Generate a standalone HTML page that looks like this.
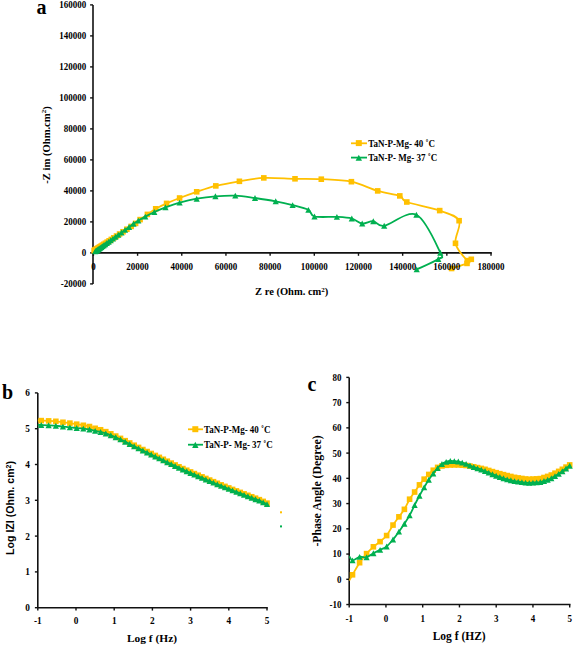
<!DOCTYPE html>
<html><head><meta charset="utf-8"><title>EIS plots</title>
<style>
html,body{margin:0;padding:0;background:#fff;}
body{width:575px;height:647px;overflow:hidden;}
svg{display:block;}
text{fill:#000;}
</style></head>
<body>
<svg width="575" height="647" viewBox="0 0 575 647">
<rect width="575" height="647" fill="#fff"/>
<line x1="93.0" y1="4.900000000000006" x2="93.0" y2="283.9" stroke="#111" stroke-width="1.6"/>
<line x1="93.0" y1="252.9" x2="491.82" y2="252.9" stroke="#111" stroke-width="1.6"/>
<line x1="90.1" y1="283.90" x2="93.0" y2="283.90" stroke="#111" stroke-width="1.4"/>
<text transform="translate(86.20,287.30) scale(1,1.1)" style="font-family:'Liberation Serif',serif;font-weight:bold;font-size:9px" text-anchor="end" >-20000</text>
<line x1="90.1" y1="252.90" x2="93.0" y2="252.90" stroke="#111" stroke-width="1.4"/>
<text transform="translate(86.20,256.30) scale(1,1.1)" style="font-family:'Liberation Serif',serif;font-weight:bold;font-size:9px" text-anchor="end" >0</text>
<line x1="90.1" y1="221.90" x2="93.0" y2="221.90" stroke="#111" stroke-width="1.4"/>
<text transform="translate(86.20,225.30) scale(1,1.1)" style="font-family:'Liberation Serif',serif;font-weight:bold;font-size:9px" text-anchor="end" >20000</text>
<line x1="90.1" y1="190.90" x2="93.0" y2="190.90" stroke="#111" stroke-width="1.4"/>
<text transform="translate(86.20,194.30) scale(1,1.1)" style="font-family:'Liberation Serif',serif;font-weight:bold;font-size:9px" text-anchor="end" >40000</text>
<line x1="90.1" y1="159.90" x2="93.0" y2="159.90" stroke="#111" stroke-width="1.4"/>
<text transform="translate(86.20,163.30) scale(1,1.1)" style="font-family:'Liberation Serif',serif;font-weight:bold;font-size:9px" text-anchor="end" >60000</text>
<line x1="90.1" y1="128.90" x2="93.0" y2="128.90" stroke="#111" stroke-width="1.4"/>
<text transform="translate(86.20,132.30) scale(1,1.1)" style="font-family:'Liberation Serif',serif;font-weight:bold;font-size:9px" text-anchor="end" >80000</text>
<line x1="90.1" y1="97.90" x2="93.0" y2="97.90" stroke="#111" stroke-width="1.4"/>
<text transform="translate(86.20,101.30) scale(1,1.1)" style="font-family:'Liberation Serif',serif;font-weight:bold;font-size:9px" text-anchor="end" >100000</text>
<line x1="90.1" y1="66.90" x2="93.0" y2="66.90" stroke="#111" stroke-width="1.4"/>
<text transform="translate(86.20,70.30) scale(1,1.1)" style="font-family:'Liberation Serif',serif;font-weight:bold;font-size:9px" text-anchor="end" >120000</text>
<line x1="90.1" y1="35.90" x2="93.0" y2="35.90" stroke="#111" stroke-width="1.4"/>
<text transform="translate(86.20,39.30) scale(1,1.1)" style="font-family:'Liberation Serif',serif;font-weight:bold;font-size:9px" text-anchor="end" >140000</text>
<line x1="90.1" y1="4.90" x2="93.0" y2="4.90" stroke="#111" stroke-width="1.4"/>
<text transform="translate(86.20,8.30) scale(1,1.1)" style="font-family:'Liberation Serif',serif;font-weight:bold;font-size:9px" text-anchor="end" >160000</text>
<line x1="93.40" y1="252.9" x2="93.40" y2="255.8" stroke="#111" stroke-width="1.4"/>
<line x1="137.58" y1="252.9" x2="137.58" y2="255.8" stroke="#111" stroke-width="1.4"/>
<line x1="181.76" y1="252.9" x2="181.76" y2="255.8" stroke="#111" stroke-width="1.4"/>
<line x1="225.94" y1="252.9" x2="225.94" y2="255.8" stroke="#111" stroke-width="1.4"/>
<line x1="270.12" y1="252.9" x2="270.12" y2="255.8" stroke="#111" stroke-width="1.4"/>
<line x1="314.30" y1="252.9" x2="314.30" y2="255.8" stroke="#111" stroke-width="1.4"/>
<line x1="358.48" y1="252.9" x2="358.48" y2="255.8" stroke="#111" stroke-width="1.4"/>
<line x1="402.66" y1="252.9" x2="402.66" y2="255.8" stroke="#111" stroke-width="1.4"/>
<line x1="446.84" y1="252.9" x2="446.84" y2="255.8" stroke="#111" stroke-width="1.4"/>
<line x1="491.02" y1="252.9" x2="491.02" y2="255.8" stroke="#111" stroke-width="1.4"/>
<path d="M94.20,250.60 C94.27,250.56 94.46,250.43 94.60,250.34 C94.74,250.25 94.89,250.15 95.05,250.05 C95.21,249.94 95.37,249.83 95.55,249.72 C95.73,249.60 95.91,249.48 96.11,249.35 C96.31,249.22 96.52,249.08 96.74,248.94 C96.96,248.79 97.20,248.64 97.45,248.48 C97.70,248.31 97.96,248.14 98.24,247.96 C98.51,247.78 98.81,247.59 99.12,247.38 C99.43,247.18 99.76,246.96 100.11,246.73 C100.46,246.51 100.83,246.27 101.22,246.01 C101.61,245.75 102.02,245.48 102.46,245.20 C102.90,244.91 103.36,244.61 103.85,244.29 C104.34,243.96 104.86,243.63 105.41,243.27 C105.96,242.91 106.54,242.53 107.16,242.13 C107.77,241.72 108.42,241.30 109.11,240.85 C109.80,240.40 110.53,239.92 111.30,239.42 C112.07,238.91 112.89,238.38 113.75,237.81 C114.62,237.24 115.53,236.65 116.50,236.02 C117.47,235.38 118.49,234.71 119.58,234.00 C120.66,233.29 121.80,232.55 123.02,231.75 C124.24,230.95 125.52,230.12 126.88,229.23 C128.24,228.33 129.75,227.37 131.20,226.40 C132.65,225.43 134.12,224.53 135.60,223.40 C137.08,222.27 138.13,221.10 140.10,219.60 C142.07,218.10 144.80,216.20 147.40,214.40 C150.00,212.60 152.50,210.63 155.70,208.80 C158.90,206.97 162.62,205.20 166.60,203.40 C170.58,201.60 174.58,199.93 179.60,198.00 C184.62,196.07 190.67,193.82 196.70,191.80 C202.73,189.78 208.68,187.65 215.80,185.90 C222.92,184.15 231.40,182.63 239.40,181.30 C247.40,179.97 254.53,178.32 263.80,177.90 C273.07,177.48 285.42,178.58 295.00,178.80 C304.58,179.02 311.90,178.72 321.30,179.20 C330.70,179.68 342.00,179.75 351.40,181.70 C360.80,183.65 369.63,188.53 377.70,190.90 C385.77,193.27 394.95,194.05 399.80,195.90 C404.65,197.75 400.15,199.55 406.80,202.00 C413.45,204.45 430.98,207.48 439.70,210.60 C448.42,213.72 456.47,215.25 459.10,220.70 C461.73,226.15 454.12,236.65 455.50,243.30 C456.88,249.95 464.77,257.93 467.40,260.60 C470.03,263.27 471.37,258.83 471.30,259.30 C471.23,259.77 470.28,261.87 467.00,263.40 C463.72,264.93 454.17,267.65 451.60,268.50" fill="none" stroke="#FFC000" stroke-width="1.8"/>
<rect x="91.40" y="247.80" width="5.6" height="5.6" fill="#FFC000"/>
<rect x="91.80" y="247.54" width="5.6" height="5.6" fill="#FFC000"/>
<rect x="92.25" y="247.25" width="5.6" height="5.6" fill="#FFC000"/>
<rect x="92.75" y="246.92" width="5.6" height="5.6" fill="#FFC000"/>
<rect x="93.31" y="246.55" width="5.6" height="5.6" fill="#FFC000"/>
<rect x="93.94" y="246.14" width="5.6" height="5.6" fill="#FFC000"/>
<rect x="94.65" y="245.68" width="5.6" height="5.6" fill="#FFC000"/>
<rect x="95.44" y="245.16" width="5.6" height="5.6" fill="#FFC000"/>
<rect x="96.32" y="244.58" width="5.6" height="5.6" fill="#FFC000"/>
<rect x="97.31" y="243.93" width="5.6" height="5.6" fill="#FFC000"/>
<rect x="98.42" y="243.21" width="5.6" height="5.6" fill="#FFC000"/>
<rect x="99.66" y="242.40" width="5.6" height="5.6" fill="#FFC000"/>
<rect x="101.05" y="241.49" width="5.6" height="5.6" fill="#FFC000"/>
<rect x="102.61" y="240.47" width="5.6" height="5.6" fill="#FFC000"/>
<rect x="104.36" y="239.33" width="5.6" height="5.6" fill="#FFC000"/>
<rect x="106.31" y="238.05" width="5.6" height="5.6" fill="#FFC000"/>
<rect x="108.50" y="236.62" width="5.6" height="5.6" fill="#FFC000"/>
<rect x="110.95" y="235.01" width="5.6" height="5.6" fill="#FFC000"/>
<rect x="113.70" y="233.22" width="5.6" height="5.6" fill="#FFC000"/>
<rect x="116.78" y="231.20" width="5.6" height="5.6" fill="#FFC000"/>
<rect x="120.22" y="228.95" width="5.6" height="5.6" fill="#FFC000"/>
<rect x="124.08" y="226.43" width="5.6" height="5.6" fill="#FFC000"/>
<rect x="128.40" y="223.60" width="5.6" height="5.6" fill="#FFC000"/>
<rect x="132.80" y="220.60" width="5.6" height="5.6" fill="#FFC000"/>
<rect x="137.30" y="216.80" width="5.6" height="5.6" fill="#FFC000"/>
<rect x="144.60" y="211.60" width="5.6" height="5.6" fill="#FFC000"/>
<rect x="152.90" y="206.00" width="5.6" height="5.6" fill="#FFC000"/>
<rect x="163.80" y="200.60" width="5.6" height="5.6" fill="#FFC000"/>
<rect x="176.80" y="195.20" width="5.6" height="5.6" fill="#FFC000"/>
<rect x="193.90" y="189.00" width="5.6" height="5.6" fill="#FFC000"/>
<rect x="213.00" y="183.10" width="5.6" height="5.6" fill="#FFC000"/>
<rect x="236.60" y="178.50" width="5.6" height="5.6" fill="#FFC000"/>
<rect x="261.00" y="175.10" width="5.6" height="5.6" fill="#FFC000"/>
<rect x="292.20" y="176.00" width="5.6" height="5.6" fill="#FFC000"/>
<rect x="318.50" y="176.40" width="5.6" height="5.6" fill="#FFC000"/>
<rect x="348.60" y="178.90" width="5.6" height="5.6" fill="#FFC000"/>
<rect x="374.90" y="188.10" width="5.6" height="5.6" fill="#FFC000"/>
<rect x="397.00" y="193.10" width="5.6" height="5.6" fill="#FFC000"/>
<rect x="404.00" y="199.20" width="5.6" height="5.6" fill="#FFC000"/>
<rect x="436.90" y="207.80" width="5.6" height="5.6" fill="#FFC000"/>
<rect x="456.30" y="217.90" width="5.6" height="5.6" fill="#FFC000"/>
<rect x="452.70" y="240.50" width="5.6" height="5.6" fill="#FFC000"/>
<rect x="464.60" y="257.80" width="5.6" height="5.6" fill="#FFC000"/>
<rect x="468.50" y="256.50" width="5.6" height="5.6" fill="#FFC000"/>
<rect x="464.20" y="260.60" width="5.6" height="5.6" fill="#FFC000"/>
<rect x="448.80" y="265.70" width="5.6" height="5.6" fill="#FFC000"/>
<path d="M95.20,251.40 C95.27,251.35 95.47,251.21 95.61,251.10 C95.76,251.00 95.91,250.89 96.08,250.77 C96.24,250.65 96.41,250.53 96.60,250.39 C96.78,250.26 96.97,250.12 97.18,249.97 C97.38,249.83 97.60,249.67 97.83,249.50 C98.06,249.34 98.30,249.16 98.56,248.98 C98.82,248.79 99.09,248.60 99.38,248.39 C99.67,248.18 99.97,247.96 100.29,247.73 C100.62,247.50 100.96,247.25 101.32,246.99 C101.68,246.73 102.06,246.46 102.47,246.16 C102.87,245.87 103.30,245.56 103.75,245.24 C104.21,244.91 104.68,244.57 105.19,244.20 C105.70,243.83 106.24,243.45 106.81,243.04 C107.38,242.63 107.97,242.20 108.61,241.74 C109.25,241.28 109.92,240.79 110.64,240.28 C111.35,239.76 112.10,239.22 112.90,238.64 C113.70,238.07 114.54,237.46 115.44,236.81 C116.34,236.17 117.28,235.49 118.28,234.77 C119.29,234.04 120.34,233.28 121.47,232.47 C122.59,231.66 123.77,230.81 125.03,229.90 C126.29,228.99 127.62,228.04 129.03,227.02 C130.44,226.01 131.95,224.87 133.50,223.80 C135.05,222.73 136.33,221.80 138.30,220.60 C140.27,219.40 142.63,218.03 145.30,216.60 C147.97,215.17 150.93,213.55 154.30,212.00 C157.67,210.45 161.28,208.87 165.50,207.30 C169.72,205.73 174.40,204.03 179.60,202.60 C184.80,201.17 190.73,199.75 196.70,198.70 C202.67,197.65 208.97,196.82 215.40,196.30 C221.83,195.78 228.70,195.32 235.30,195.60 C241.90,195.88 248.27,197.05 255.00,198.00 C261.73,198.95 269.43,200.12 275.70,201.30 C281.97,202.48 287.15,203.67 292.60,205.10 C298.05,206.53 304.75,208.00 308.40,209.90 C312.05,211.80 309.75,215.33 314.50,216.50 C319.25,217.67 330.68,216.57 336.90,216.90 C343.12,217.23 347.58,217.40 351.80,218.50 C356.02,219.60 358.62,223.05 362.20,223.50 C365.78,223.95 369.63,220.83 373.30,221.20 C376.97,221.57 377.02,226.77 384.20,225.70 C391.38,224.63 407.05,210.30 416.40,214.80 C425.75,219.30 436.65,245.33 440.30,252.70 C443.95,260.07 442.23,256.22 438.30,259.00 C434.37,261.78 420.30,267.67 416.70,269.40" fill="none" stroke="#00B050" stroke-width="1.8"/>
<path d="M95.20,248.46 L98.30,254.34 L92.10,254.34Z" fill="#00B050"/>
<path d="M95.61,248.16 L98.71,254.05 L92.51,254.05Z" fill="#00B050"/>
<path d="M96.08,247.82 L99.18,253.71 L92.98,253.71Z" fill="#00B050"/>
<path d="M96.60,247.45 L99.70,253.34 L93.50,253.34Z" fill="#00B050"/>
<path d="M97.18,247.03 L100.28,252.92 L94.08,252.92Z" fill="#00B050"/>
<path d="M97.83,246.56 L100.93,252.45 L94.73,252.45Z" fill="#00B050"/>
<path d="M98.56,246.03 L101.66,251.92 L95.46,251.92Z" fill="#00B050"/>
<path d="M99.38,245.44 L102.48,251.33 L96.28,251.33Z" fill="#00B050"/>
<path d="M100.29,244.79 L103.39,250.68 L97.19,250.68Z" fill="#00B050"/>
<path d="M101.32,244.05 L104.42,249.94 L98.22,249.94Z" fill="#00B050"/>
<path d="M102.47,243.22 L105.57,249.11 L99.37,249.11Z" fill="#00B050"/>
<path d="M103.75,242.29 L106.85,248.18 L100.65,248.18Z" fill="#00B050"/>
<path d="M105.19,241.25 L108.29,247.14 L102.09,247.14Z" fill="#00B050"/>
<path d="M106.81,240.09 L109.91,245.98 L103.71,245.98Z" fill="#00B050"/>
<path d="M108.61,238.79 L111.71,244.68 L105.51,244.68Z" fill="#00B050"/>
<path d="M110.64,237.33 L113.74,243.22 L107.54,243.22Z" fill="#00B050"/>
<path d="M112.90,235.70 L116.00,241.59 L109.80,241.59Z" fill="#00B050"/>
<path d="M115.44,233.87 L118.54,239.76 L112.34,239.76Z" fill="#00B050"/>
<path d="M118.28,231.82 L121.38,237.71 L115.18,237.71Z" fill="#00B050"/>
<path d="M121.47,229.53 L124.57,235.42 L118.37,235.42Z" fill="#00B050"/>
<path d="M125.03,226.96 L128.13,232.85 L121.93,232.85Z" fill="#00B050"/>
<path d="M129.03,224.08 L132.13,229.97 L125.93,229.97Z" fill="#00B050"/>
<path d="M133.50,220.86 L136.60,226.75 L130.40,226.75Z" fill="#00B050"/>
<path d="M138.30,217.66 L141.40,223.54 L135.20,223.54Z" fill="#00B050"/>
<path d="M145.30,213.66 L148.40,219.54 L142.20,219.54Z" fill="#00B050"/>
<path d="M154.30,209.06 L157.40,214.94 L151.20,214.94Z" fill="#00B050"/>
<path d="M165.50,204.36 L168.60,210.25 L162.40,210.25Z" fill="#00B050"/>
<path d="M179.60,199.66 L182.70,205.54 L176.50,205.54Z" fill="#00B050"/>
<path d="M196.70,195.75 L199.80,201.64 L193.60,201.64Z" fill="#00B050"/>
<path d="M215.40,193.36 L218.50,199.25 L212.30,199.25Z" fill="#00B050"/>
<path d="M235.30,192.66 L238.40,198.54 L232.20,198.54Z" fill="#00B050"/>
<path d="M255.00,195.06 L258.10,200.94 L251.90,200.94Z" fill="#00B050"/>
<path d="M275.70,198.36 L278.80,204.25 L272.60,204.25Z" fill="#00B050"/>
<path d="M292.60,202.16 L295.70,208.04 L289.50,208.04Z" fill="#00B050"/>
<path d="M308.40,206.96 L311.50,212.84 L305.30,212.84Z" fill="#00B050"/>
<path d="M314.50,213.56 L317.60,219.44 L311.40,219.44Z" fill="#00B050"/>
<path d="M336.90,213.96 L340.00,219.84 L333.80,219.84Z" fill="#00B050"/>
<path d="M351.80,215.56 L354.90,221.44 L348.70,221.44Z" fill="#00B050"/>
<path d="M362.20,220.56 L365.30,226.44 L359.10,226.44Z" fill="#00B050"/>
<path d="M373.30,218.25 L376.40,224.14 L370.20,224.14Z" fill="#00B050"/>
<path d="M384.20,222.75 L387.30,228.64 L381.10,228.64Z" fill="#00B050"/>
<path d="M416.40,211.86 L419.50,217.75 L413.30,217.75Z" fill="#00B050"/>
<path d="M440.30,249.75 L443.40,255.64 L437.20,255.64Z" fill="#00B050"/>
<path d="M438.30,256.06 L441.40,261.94 L435.20,261.94Z" fill="#00B050"/>
<path d="M416.70,266.45 L419.80,272.34 L413.60,272.34Z" fill="#00B050"/>
<text transform="translate(93.40,269.70) scale(1,1.1)" style="font-family:'Liberation Serif',serif;font-weight:bold;font-size:9px" text-anchor="middle" >0</text>
<text transform="translate(137.58,269.70) scale(1,1.1)" style="font-family:'Liberation Serif',serif;font-weight:bold;font-size:9px" text-anchor="middle" >20000</text>
<text transform="translate(181.76,269.70) scale(1,1.1)" style="font-family:'Liberation Serif',serif;font-weight:bold;font-size:9px" text-anchor="middle" >40000</text>
<text transform="translate(225.94,269.70) scale(1,1.1)" style="font-family:'Liberation Serif',serif;font-weight:bold;font-size:9px" text-anchor="middle" >60000</text>
<text transform="translate(270.12,269.70) scale(1,1.1)" style="font-family:'Liberation Serif',serif;font-weight:bold;font-size:9px" text-anchor="middle" >80000</text>
<text transform="translate(314.30,269.70) scale(1,1.1)" style="font-family:'Liberation Serif',serif;font-weight:bold;font-size:9px" text-anchor="middle" >100000</text>
<text transform="translate(358.48,269.70) scale(1,1.1)" style="font-family:'Liberation Serif',serif;font-weight:bold;font-size:9px" text-anchor="middle" >120000</text>
<text transform="translate(402.66,269.70) scale(1,1.1)" style="font-family:'Liberation Serif',serif;font-weight:bold;font-size:9px" text-anchor="middle" >140000</text>
<text transform="translate(446.84,269.70) scale(1,1.1)" style="font-family:'Liberation Serif',serif;font-weight:bold;font-size:9px" text-anchor="middle" >160000</text>
<text transform="translate(491.02,269.70) scale(1,1.1)" style="font-family:'Liberation Serif',serif;font-weight:bold;font-size:9px" text-anchor="middle" >180000</text>
<text x="36.50" y="14.00" style="font-family:'Liberation Serif',serif;font-weight:bold;font-size:20px" text-anchor="start" >a</text>
<text transform="translate(49.6,145) rotate(-90)" text-anchor="middle" style="font-family:'Liberation Serif',serif;font-weight:bold;font-size:10.6px">-Z im (Ohm.cm<tspan font-size="7" dy="-3.5">2</tspan><tspan dy="3.5">)</tspan></text>
<text x="291.70" y="295.10" style="font-family:'Liberation Serif',serif;font-weight:bold;font-size:10.5px" text-anchor="middle" >Z re (Ohm. cm<tspan font-size="7" dy="-3.5">2</tspan><tspan dy="3.5">)</tspan></text>
<line x1="351" y1="143.3" x2="367" y2="143.3" stroke="#FFC000" stroke-width="1.8"/>
<rect x="355.80" y="140.10" width="6" height="6" fill="#FFC000"/>
<text transform="translate(368.30,146.60) scale(1,1.1)" style="font-family:'Liberation Serif',serif;font-weight:bold;font-size:9px" text-anchor="start" >TaN-P-Mg- 40 &#730;C</text>
<line x1="351" y1="157.6" x2="367" y2="157.6" stroke="#00B050" stroke-width="1.8"/>
<path d="M358.80,154.76 L362.00,160.84 L355.60,160.84Z" fill="#00B050"/>
<text transform="translate(368.30,160.60) scale(1,1.1)" style="font-family:'Liberation Serif',serif;font-weight:bold;font-size:9px" text-anchor="start" >TaN-P- Mg- 37 &#730;C</text>
<line x1="37.8" y1="392.9000000000001" x2="37.8" y2="607.7" stroke="#111" stroke-width="1.6"/>
<line x1="37.8" y1="607.7" x2="267.8" y2="607.7" stroke="#111" stroke-width="1.6"/>
<line x1="34.9" y1="607.70" x2="37.8" y2="607.70" stroke="#111" stroke-width="1.4"/>
<text transform="translate(29.80,611.10) scale(1,1.1)" style="font-family:'Liberation Serif',serif;font-weight:bold;font-size:9.3px" text-anchor="end" >0</text>
<line x1="34.9" y1="571.90" x2="37.8" y2="571.90" stroke="#111" stroke-width="1.4"/>
<text transform="translate(29.80,575.30) scale(1,1.1)" style="font-family:'Liberation Serif',serif;font-weight:bold;font-size:9.3px" text-anchor="end" >1</text>
<line x1="34.9" y1="536.10" x2="37.8" y2="536.10" stroke="#111" stroke-width="1.4"/>
<text transform="translate(29.80,539.50) scale(1,1.1)" style="font-family:'Liberation Serif',serif;font-weight:bold;font-size:9.3px" text-anchor="end" >2</text>
<line x1="34.9" y1="500.30" x2="37.8" y2="500.30" stroke="#111" stroke-width="1.4"/>
<text transform="translate(29.80,503.70) scale(1,1.1)" style="font-family:'Liberation Serif',serif;font-weight:bold;font-size:9.3px" text-anchor="end" >3</text>
<line x1="34.9" y1="464.50" x2="37.8" y2="464.50" stroke="#111" stroke-width="1.4"/>
<text transform="translate(29.80,467.90) scale(1,1.1)" style="font-family:'Liberation Serif',serif;font-weight:bold;font-size:9.3px" text-anchor="end" >4</text>
<line x1="34.9" y1="428.70" x2="37.8" y2="428.70" stroke="#111" stroke-width="1.4"/>
<text transform="translate(29.80,432.10) scale(1,1.1)" style="font-family:'Liberation Serif',serif;font-weight:bold;font-size:9.3px" text-anchor="end" >5</text>
<line x1="34.9" y1="392.90" x2="37.8" y2="392.90" stroke="#111" stroke-width="1.4"/>
<text transform="translate(29.80,396.30) scale(1,1.1)" style="font-family:'Liberation Serif',serif;font-weight:bold;font-size:9.3px" text-anchor="end" >6</text>
<line x1="37.80" y1="607.7" x2="37.80" y2="610.6" stroke="#111" stroke-width="1.4"/>
<text transform="translate(37.80,624.40) scale(1,1.1)" style="font-family:'Liberation Serif',serif;font-weight:bold;font-size:9.3px" text-anchor="middle" >-1</text>
<line x1="76.00" y1="607.7" x2="76.00" y2="610.6" stroke="#111" stroke-width="1.4"/>
<text transform="translate(76.00,624.40) scale(1,1.1)" style="font-family:'Liberation Serif',serif;font-weight:bold;font-size:9.3px" text-anchor="middle" >0</text>
<line x1="114.20" y1="607.7" x2="114.20" y2="610.6" stroke="#111" stroke-width="1.4"/>
<text transform="translate(114.20,624.40) scale(1,1.1)" style="font-family:'Liberation Serif',serif;font-weight:bold;font-size:9.3px" text-anchor="middle" >1</text>
<line x1="152.40" y1="607.7" x2="152.40" y2="610.6" stroke="#111" stroke-width="1.4"/>
<text transform="translate(152.40,624.40) scale(1,1.1)" style="font-family:'Liberation Serif',serif;font-weight:bold;font-size:9.3px" text-anchor="middle" >2</text>
<line x1="190.60" y1="607.7" x2="190.60" y2="610.6" stroke="#111" stroke-width="1.4"/>
<text transform="translate(190.60,624.40) scale(1,1.1)" style="font-family:'Liberation Serif',serif;font-weight:bold;font-size:9.3px" text-anchor="middle" >3</text>
<line x1="228.80" y1="607.7" x2="228.80" y2="610.6" stroke="#111" stroke-width="1.4"/>
<text transform="translate(228.80,624.40) scale(1,1.1)" style="font-family:'Liberation Serif',serif;font-weight:bold;font-size:9.3px" text-anchor="middle" >4</text>
<line x1="267.00" y1="607.7" x2="267.00" y2="610.6" stroke="#111" stroke-width="1.4"/>
<text transform="translate(267.00,624.40) scale(1,1.1)" style="font-family:'Liberation Serif',serif;font-weight:bold;font-size:9.3px" text-anchor="middle" >5</text>
<path d="M37.80,420.50 C38.37,420.52 39.43,420.54 41.24,420.60 C43.04,420.67 46.19,420.77 48.62,420.89 C51.06,421.00 53.47,421.07 55.86,421.30 C58.25,421.53 60.61,421.96 62.95,422.27 C65.29,422.57 67.61,422.81 69.90,423.13 C72.19,423.45 74.47,423.82 76.71,424.19 C78.95,424.55 81.22,424.90 83.35,425.29 C85.48,425.68 87.52,426.03 89.48,426.53 C91.45,427.03 93.32,427.75 95.16,428.29 C97.01,428.83 98.80,429.22 100.57,429.77 C102.34,430.33 104.08,430.97 105.79,431.65 C107.50,432.32 109.17,433.06 110.82,433.80 C112.48,434.54 114.11,435.30 115.72,436.06 C117.34,436.83 118.93,437.62 120.50,438.38 C122.07,439.15 123.62,439.92 125.16,440.68 C126.70,441.44 128.21,442.20 129.72,442.96 C131.22,443.72 132.71,444.47 134.19,445.22 C135.66,445.96 137.12,446.70 138.56,447.42 C140.01,448.14 141.44,448.85 142.86,449.54 C144.28,450.22 145.68,450.87 147.08,451.53 C148.47,452.18 149.85,452.83 151.22,453.48 C152.59,454.14 153.95,454.79 155.30,455.44 C156.65,456.09 157.99,456.73 159.32,457.38 C160.66,458.02 161.99,458.66 163.32,459.29 C164.65,459.93 165.97,460.57 167.29,461.20 C168.60,461.83 169.91,462.46 171.22,463.08 C172.52,463.71 173.82,464.33 175.12,464.96 C176.42,465.58 177.71,466.22 179.00,466.82 C180.29,467.42 181.58,467.99 182.87,468.56 C184.16,469.14 185.44,469.70 186.72,470.26 C188.01,470.82 189.29,471.39 190.56,471.94 C191.84,472.50 193.11,473.04 194.38,473.59 C195.66,474.13 196.93,474.68 198.21,475.23 C199.48,475.77 200.75,476.31 202.03,476.85 C203.30,477.39 204.58,477.92 205.85,478.46 C207.12,478.99 208.40,479.53 209.67,480.06 C210.95,480.60 212.22,481.13 213.49,481.67 C214.77,482.20 216.04,482.74 217.32,483.27 C218.59,483.80 219.86,484.34 221.14,484.86 C222.41,485.37 223.69,485.87 224.96,486.38 C226.23,486.89 227.51,487.41 228.78,487.91 C230.06,488.42 231.33,488.92 232.60,489.42 C233.88,489.91 235.15,490.41 236.43,490.91 C237.70,491.40 238.97,491.90 240.25,492.39 C241.52,492.88 242.79,493.36 244.07,493.85 C245.34,494.33 246.62,494.81 247.89,495.30 C249.16,495.78 250.44,496.27 251.71,496.75 C252.99,497.23 254.26,497.72 255.53,498.20 C256.81,498.69 258.08,499.13 259.36,499.66 C260.63,500.18 261.90,500.79 263.18,501.38 C264.45,501.96 266.36,502.86 267.00,503.15" fill="none" stroke="#FFC000" stroke-width="1.8"/>
<rect x="38.44" y="417.80" width="5.6" height="5.6" fill="#FFC000"/>
<rect x="45.82" y="418.09" width="5.6" height="5.6" fill="#FFC000"/>
<rect x="53.06" y="418.50" width="5.6" height="5.6" fill="#FFC000"/>
<rect x="60.15" y="419.47" width="5.6" height="5.6" fill="#FFC000"/>
<rect x="67.10" y="420.33" width="5.6" height="5.6" fill="#FFC000"/>
<rect x="73.91" y="421.39" width="5.6" height="5.6" fill="#FFC000"/>
<rect x="80.55" y="422.49" width="5.6" height="5.6" fill="#FFC000"/>
<rect x="86.68" y="423.73" width="5.6" height="5.6" fill="#FFC000"/>
<rect x="92.36" y="425.49" width="5.6" height="5.6" fill="#FFC000"/>
<rect x="97.77" y="426.97" width="5.6" height="5.6" fill="#FFC000"/>
<rect x="102.99" y="428.85" width="5.6" height="5.6" fill="#FFC000"/>
<rect x="108.02" y="431.00" width="5.6" height="5.6" fill="#FFC000"/>
<rect x="112.92" y="433.26" width="5.6" height="5.6" fill="#FFC000"/>
<rect x="117.70" y="435.58" width="5.6" height="5.6" fill="#FFC000"/>
<rect x="122.36" y="437.88" width="5.6" height="5.6" fill="#FFC000"/>
<rect x="126.92" y="440.16" width="5.6" height="5.6" fill="#FFC000"/>
<rect x="131.39" y="442.42" width="5.6" height="5.6" fill="#FFC000"/>
<rect x="135.76" y="444.62" width="5.6" height="5.6" fill="#FFC000"/>
<rect x="140.06" y="446.74" width="5.6" height="5.6" fill="#FFC000"/>
<rect x="144.28" y="448.73" width="5.6" height="5.6" fill="#FFC000"/>
<rect x="148.42" y="450.68" width="5.6" height="5.6" fill="#FFC000"/>
<rect x="152.50" y="452.64" width="5.6" height="5.6" fill="#FFC000"/>
<rect x="156.52" y="454.58" width="5.6" height="5.6" fill="#FFC000"/>
<rect x="160.52" y="456.49" width="5.6" height="5.6" fill="#FFC000"/>
<rect x="164.49" y="458.40" width="5.6" height="5.6" fill="#FFC000"/>
<rect x="168.42" y="460.28" width="5.6" height="5.6" fill="#FFC000"/>
<rect x="172.32" y="462.16" width="5.6" height="5.6" fill="#FFC000"/>
<rect x="176.20" y="464.02" width="5.6" height="5.6" fill="#FFC000"/>
<rect x="180.07" y="465.76" width="5.6" height="5.6" fill="#FFC000"/>
<rect x="183.92" y="467.46" width="5.6" height="5.6" fill="#FFC000"/>
<rect x="187.76" y="469.14" width="5.6" height="5.6" fill="#FFC000"/>
<rect x="191.58" y="470.79" width="5.6" height="5.6" fill="#FFC000"/>
<rect x="195.41" y="472.43" width="5.6" height="5.6" fill="#FFC000"/>
<rect x="199.23" y="474.05" width="5.6" height="5.6" fill="#FFC000"/>
<rect x="203.05" y="475.66" width="5.6" height="5.6" fill="#FFC000"/>
<rect x="206.87" y="477.26" width="5.6" height="5.6" fill="#FFC000"/>
<rect x="210.69" y="478.87" width="5.6" height="5.6" fill="#FFC000"/>
<rect x="214.52" y="480.47" width="5.6" height="5.6" fill="#FFC000"/>
<rect x="218.34" y="482.06" width="5.6" height="5.6" fill="#FFC000"/>
<rect x="222.16" y="483.58" width="5.6" height="5.6" fill="#FFC000"/>
<rect x="225.98" y="485.11" width="5.6" height="5.6" fill="#FFC000"/>
<rect x="229.80" y="486.62" width="5.6" height="5.6" fill="#FFC000"/>
<rect x="233.63" y="488.11" width="5.6" height="5.6" fill="#FFC000"/>
<rect x="237.45" y="489.59" width="5.6" height="5.6" fill="#FFC000"/>
<rect x="241.27" y="491.05" width="5.6" height="5.6" fill="#FFC000"/>
<rect x="245.09" y="492.50" width="5.6" height="5.6" fill="#FFC000"/>
<rect x="248.91" y="493.95" width="5.6" height="5.6" fill="#FFC000"/>
<rect x="252.73" y="495.40" width="5.6" height="5.6" fill="#FFC000"/>
<rect x="256.56" y="496.86" width="5.6" height="5.6" fill="#FFC000"/>
<rect x="260.38" y="498.58" width="5.6" height="5.6" fill="#FFC000"/>
<rect x="264.20" y="500.35" width="5.6" height="5.6" fill="#FFC000"/>
<path d="M37.80,424.90 C38.37,424.92 39.43,424.94 41.24,425.00 C43.04,425.07 46.19,425.17 48.62,425.29 C51.06,425.40 53.47,425.47 55.86,425.70 C58.25,425.93 60.61,426.38 62.95,426.67 C65.29,426.95 67.61,427.18 69.90,427.40 C72.19,427.62 74.47,427.78 76.71,427.99 C78.95,428.20 81.22,428.40 83.35,428.65 C85.48,428.89 87.52,429.11 89.48,429.47 C91.45,429.84 93.32,430.43 95.16,430.84 C97.01,431.26 98.80,431.52 100.57,431.96 C102.34,432.40 104.08,432.92 105.79,433.48 C107.50,434.03 109.17,434.66 110.82,435.29 C112.48,435.91 114.11,436.54 115.72,437.22 C117.34,437.90 118.93,438.64 120.50,439.38 C122.07,440.13 123.62,440.92 125.16,441.68 C126.70,442.44 128.21,443.20 129.72,443.96 C131.22,444.72 132.71,445.47 134.19,446.22 C135.66,446.96 137.12,447.70 138.56,448.42 C140.01,449.14 141.44,449.85 142.86,450.54 C144.28,451.22 145.68,451.87 147.08,452.53 C148.47,453.18 149.85,453.83 151.22,454.48 C152.59,455.14 153.95,455.79 155.30,456.44 C156.65,457.09 157.99,457.73 159.32,458.38 C160.66,459.02 161.99,459.66 163.32,460.29 C164.65,460.93 165.97,461.57 167.29,462.20 C168.60,462.83 169.91,463.46 171.22,464.08 C172.52,464.71 173.82,465.33 175.12,465.96 C176.42,466.58 177.71,467.22 179.00,467.82 C180.29,468.42 181.58,468.99 182.87,469.56 C184.16,470.14 185.44,470.70 186.72,471.26 C188.01,471.82 189.29,472.39 190.56,472.94 C191.84,473.50 193.11,474.04 194.38,474.59 C195.66,475.13 196.93,475.68 198.21,476.23 C199.48,476.77 200.75,477.31 202.03,477.85 C203.30,478.39 204.58,478.92 205.85,479.46 C207.12,479.99 208.40,480.53 209.67,481.06 C210.95,481.60 212.22,482.13 213.49,482.67 C214.77,483.20 216.04,483.74 217.32,484.27 C218.59,484.80 219.86,485.34 221.14,485.86 C222.41,486.37 223.69,486.87 224.96,487.38 C226.23,487.89 227.51,488.41 228.78,488.91 C230.06,489.42 231.33,489.92 232.60,490.42 C233.88,490.91 235.15,491.41 236.43,491.91 C237.70,492.40 238.97,492.90 240.25,493.39 C241.52,493.88 242.79,494.36 244.07,494.85 C245.34,495.33 246.62,495.81 247.89,496.30 C249.16,496.78 250.44,497.27 251.71,497.75 C252.99,498.23 254.26,498.72 255.53,499.20 C256.81,499.69 258.08,500.13 259.36,500.66 C260.63,501.18 261.90,501.79 263.18,502.38 C264.45,502.96 266.36,503.86 267.00,504.15" fill="none" stroke="#00B050" stroke-width="1.8"/>
<path d="M41.24,422.06 L44.34,427.95 L38.14,427.95Z" fill="#00B050"/>
<path d="M48.62,422.34 L51.72,428.23 L45.52,428.23Z" fill="#00B050"/>
<path d="M55.86,422.75 L58.96,428.64 L52.76,428.64Z" fill="#00B050"/>
<path d="M62.95,423.72 L66.05,429.61 L59.85,429.61Z" fill="#00B050"/>
<path d="M69.90,424.45 L73.00,430.34 L66.80,430.34Z" fill="#00B050"/>
<path d="M76.71,425.05 L79.81,430.94 L73.61,430.94Z" fill="#00B050"/>
<path d="M83.35,425.70 L86.45,431.59 L80.25,431.59Z" fill="#00B050"/>
<path d="M89.48,426.53 L92.58,432.42 L86.38,432.42Z" fill="#00B050"/>
<path d="M95.16,427.90 L98.26,433.79 L92.06,433.79Z" fill="#00B050"/>
<path d="M100.57,429.02 L103.67,434.91 L97.47,434.91Z" fill="#00B050"/>
<path d="M105.79,430.53 L108.89,436.42 L102.69,436.42Z" fill="#00B050"/>
<path d="M110.82,432.34 L113.92,438.23 L107.72,438.23Z" fill="#00B050"/>
<path d="M115.72,434.27 L118.82,440.16 L112.62,440.16Z" fill="#00B050"/>
<path d="M120.50,436.44 L123.60,442.33 L117.40,442.33Z" fill="#00B050"/>
<path d="M125.16,438.74 L128.26,444.63 L122.06,444.63Z" fill="#00B050"/>
<path d="M129.72,441.01 L132.82,446.90 L126.62,446.90Z" fill="#00B050"/>
<path d="M134.19,443.27 L137.29,449.16 L131.09,449.16Z" fill="#00B050"/>
<path d="M138.56,445.48 L141.66,451.37 L135.46,451.37Z" fill="#00B050"/>
<path d="M142.86,447.59 L145.96,453.48 L139.76,453.48Z" fill="#00B050"/>
<path d="M147.08,449.58 L150.18,455.47 L143.98,455.47Z" fill="#00B050"/>
<path d="M151.22,451.54 L154.32,457.43 L148.12,457.43Z" fill="#00B050"/>
<path d="M155.30,453.50 L158.40,459.39 L152.20,459.39Z" fill="#00B050"/>
<path d="M159.32,455.43 L162.42,461.32 L156.22,461.32Z" fill="#00B050"/>
<path d="M163.32,457.35 L166.42,463.24 L160.22,463.24Z" fill="#00B050"/>
<path d="M167.29,459.25 L170.39,465.14 L164.19,465.14Z" fill="#00B050"/>
<path d="M171.22,461.14 L174.32,467.03 L168.12,467.03Z" fill="#00B050"/>
<path d="M175.12,463.01 L178.22,468.90 L172.02,468.90Z" fill="#00B050"/>
<path d="M179.00,464.88 L182.10,470.77 L175.90,470.77Z" fill="#00B050"/>
<path d="M182.87,466.62 L185.97,472.51 L179.77,472.51Z" fill="#00B050"/>
<path d="M186.72,468.31 L189.82,474.20 L183.62,474.20Z" fill="#00B050"/>
<path d="M190.56,470.00 L193.66,475.89 L187.46,475.89Z" fill="#00B050"/>
<path d="M194.38,471.64 L197.48,477.53 L191.28,477.53Z" fill="#00B050"/>
<path d="M198.21,473.28 L201.31,479.17 L195.11,479.17Z" fill="#00B050"/>
<path d="M202.03,474.91 L205.13,480.80 L198.93,480.80Z" fill="#00B050"/>
<path d="M205.85,476.51 L208.95,482.40 L202.75,482.40Z" fill="#00B050"/>
<path d="M209.67,478.12 L212.77,484.01 L206.57,484.01Z" fill="#00B050"/>
<path d="M213.49,479.72 L216.59,485.61 L210.39,485.61Z" fill="#00B050"/>
<path d="M217.32,481.33 L220.42,487.22 L214.22,487.22Z" fill="#00B050"/>
<path d="M221.14,482.91 L224.24,488.80 L218.04,488.80Z" fill="#00B050"/>
<path d="M224.96,484.44 L228.06,490.33 L221.86,490.33Z" fill="#00B050"/>
<path d="M228.78,485.97 L231.88,491.86 L225.68,491.86Z" fill="#00B050"/>
<path d="M232.60,487.47 L235.70,493.36 L229.50,493.36Z" fill="#00B050"/>
<path d="M236.43,488.96 L239.53,494.85 L233.33,494.85Z" fill="#00B050"/>
<path d="M240.25,490.45 L243.35,496.34 L237.15,496.34Z" fill="#00B050"/>
<path d="M244.07,491.90 L247.17,497.79 L240.97,497.79Z" fill="#00B050"/>
<path d="M247.89,493.35 L250.99,499.24 L244.79,499.24Z" fill="#00B050"/>
<path d="M251.71,494.81 L254.81,500.70 L248.61,500.70Z" fill="#00B050"/>
<path d="M255.53,496.26 L258.63,502.15 L252.43,502.15Z" fill="#00B050"/>
<path d="M259.36,497.71 L262.46,503.60 L256.26,503.60Z" fill="#00B050"/>
<path d="M263.18,499.43 L266.28,505.32 L260.08,505.32Z" fill="#00B050"/>
<path d="M267.00,501.21 L270.10,507.10 L263.90,507.10Z" fill="#00B050"/>
<text x="2.00" y="398.80" style="font-family:'Liberation Serif',serif;font-weight:bold;font-size:20px" text-anchor="start" >b</text>
<text transform="translate(14.2,508) rotate(-90)" text-anchor="middle" style="font-family:'Liberation Sans',sans-serif;font-weight:bold;font-size:10.6px">Log IZI (Ohm. cm<tspan font-size="7" dy="-3.5">2</tspan><tspan dy="3.5">)</tspan></text>
<text x="152.00" y="642.20" style="font-family:'Liberation Serif',serif;font-weight:bold;font-size:11.4px" text-anchor="middle" >Log f (Hz)</text>
<line x1="188" y1="429.3" x2="203" y2="429.3" stroke="#FFC000" stroke-width="1.8"/>
<rect x="192.30" y="426.20" width="6" height="6" fill="#FFC000"/>
<text transform="translate(204.00,432.60) scale(1,1.1)" style="font-family:'Liberation Serif',serif;font-weight:bold;font-size:9px" text-anchor="start" >TaN-P-Mg- 40 &#730;C</text>
<line x1="188" y1="444.7" x2="203" y2="444.7" stroke="#00B050" stroke-width="1.8"/>
<path d="M195.30,441.86 L198.50,447.94 L192.10,447.94Z" fill="#00B050"/>
<text transform="translate(204.00,447.90) scale(1,1.1)" style="font-family:'Liberation Serif',serif;font-weight:bold;font-size:9px" text-anchor="start" >TaN-P- Mg- 37 &#730;C</text>
<rect x="280" y="511.3" width="2" height="2" fill="#FFC000"/>
<rect x="280" y="525.4" width="2" height="2" fill="#00B050"/>
<line x1="349.2" y1="377.37999999999994" x2="349.2" y2="604.54" stroke="#111" stroke-width="1.6"/>
<line x1="349.2" y1="604.54" x2="570.5" y2="604.54" stroke="#111" stroke-width="1.6"/>
<line x1="346.3" y1="604.54" x2="349.2" y2="604.54" stroke="#111" stroke-width="1.4"/>
<text transform="translate(341.50,607.94) scale(1,1.1)" style="font-family:'Liberation Serif',serif;font-weight:bold;font-size:9px" text-anchor="end" >-10</text>
<line x1="346.3" y1="579.30" x2="349.2" y2="579.30" stroke="#111" stroke-width="1.4"/>
<text transform="translate(341.50,582.70) scale(1,1.1)" style="font-family:'Liberation Serif',serif;font-weight:bold;font-size:9px" text-anchor="end" >0</text>
<line x1="346.3" y1="554.06" x2="349.2" y2="554.06" stroke="#111" stroke-width="1.4"/>
<text transform="translate(341.50,557.46) scale(1,1.1)" style="font-family:'Liberation Serif',serif;font-weight:bold;font-size:9px" text-anchor="end" >10</text>
<line x1="346.3" y1="528.82" x2="349.2" y2="528.82" stroke="#111" stroke-width="1.4"/>
<text transform="translate(341.50,532.22) scale(1,1.1)" style="font-family:'Liberation Serif',serif;font-weight:bold;font-size:9px" text-anchor="end" >20</text>
<line x1="346.3" y1="503.58" x2="349.2" y2="503.58" stroke="#111" stroke-width="1.4"/>
<text transform="translate(341.50,506.98) scale(1,1.1)" style="font-family:'Liberation Serif',serif;font-weight:bold;font-size:9px" text-anchor="end" >30</text>
<line x1="346.3" y1="478.34" x2="349.2" y2="478.34" stroke="#111" stroke-width="1.4"/>
<text transform="translate(341.50,481.74) scale(1,1.1)" style="font-family:'Liberation Serif',serif;font-weight:bold;font-size:9px" text-anchor="end" >40</text>
<line x1="346.3" y1="453.10" x2="349.2" y2="453.10" stroke="#111" stroke-width="1.4"/>
<text transform="translate(341.50,456.50) scale(1,1.1)" style="font-family:'Liberation Serif',serif;font-weight:bold;font-size:9px" text-anchor="end" >50</text>
<line x1="346.3" y1="427.86" x2="349.2" y2="427.86" stroke="#111" stroke-width="1.4"/>
<text transform="translate(341.50,431.26) scale(1,1.1)" style="font-family:'Liberation Serif',serif;font-weight:bold;font-size:9px" text-anchor="end" >60</text>
<line x1="346.3" y1="402.62" x2="349.2" y2="402.62" stroke="#111" stroke-width="1.4"/>
<text transform="translate(341.50,406.02) scale(1,1.1)" style="font-family:'Liberation Serif',serif;font-weight:bold;font-size:9px" text-anchor="end" >70</text>
<line x1="346.3" y1="377.38" x2="349.2" y2="377.38" stroke="#111" stroke-width="1.4"/>
<text transform="translate(341.50,380.78) scale(1,1.1)" style="font-family:'Liberation Serif',serif;font-weight:bold;font-size:9px" text-anchor="end" >80</text>
<line x1="349.20" y1="604.54" x2="349.20" y2="607.4399999999999" stroke="#111" stroke-width="1.4"/>
<text transform="translate(349.20,621.70) scale(1,1.1)" style="font-family:'Liberation Serif',serif;font-weight:bold;font-size:9px" text-anchor="middle" >-1</text>
<line x1="385.95" y1="604.54" x2="385.95" y2="607.4399999999999" stroke="#111" stroke-width="1.4"/>
<text transform="translate(385.95,621.70) scale(1,1.1)" style="font-family:'Liberation Serif',serif;font-weight:bold;font-size:9px" text-anchor="middle" >0</text>
<line x1="422.70" y1="604.54" x2="422.70" y2="607.4399999999999" stroke="#111" stroke-width="1.4"/>
<text transform="translate(422.70,621.70) scale(1,1.1)" style="font-family:'Liberation Serif',serif;font-weight:bold;font-size:9px" text-anchor="middle" >1</text>
<line x1="459.45" y1="604.54" x2="459.45" y2="607.4399999999999" stroke="#111" stroke-width="1.4"/>
<text transform="translate(459.45,621.70) scale(1,1.1)" style="font-family:'Liberation Serif',serif;font-weight:bold;font-size:9px" text-anchor="middle" >2</text>
<line x1="496.20" y1="604.54" x2="496.20" y2="607.4399999999999" stroke="#111" stroke-width="1.4"/>
<text transform="translate(496.20,621.70) scale(1,1.1)" style="font-family:'Liberation Serif',serif;font-weight:bold;font-size:9px" text-anchor="middle" >3</text>
<line x1="532.95" y1="604.54" x2="532.95" y2="607.4399999999999" stroke="#111" stroke-width="1.4"/>
<text transform="translate(532.95,621.70) scale(1,1.1)" style="font-family:'Liberation Serif',serif;font-weight:bold;font-size:9px" text-anchor="middle" >4</text>
<line x1="569.70" y1="604.54" x2="569.70" y2="607.4399999999999" stroke="#111" stroke-width="1.4"/>
<text transform="translate(569.70,621.70) scale(1,1.1)" style="font-family:'Liberation Serif',serif;font-weight:bold;font-size:9px" text-anchor="middle" >5</text>
<clipPath id="cc"><rect x="349.2" y="300" width="260" height="320"/></clipPath>
<g clip-path="url(#cc)">
<path d="M349.20,580.50 C349.75,579.55 350.77,577.77 352.51,574.80 C354.24,571.84 357.27,566.23 359.61,562.70 C361.96,559.17 364.28,556.28 366.57,553.63 C368.87,550.98 371.14,548.80 373.39,546.81 C375.65,544.81 377.87,543.51 380.08,541.64 C382.29,539.77 384.48,538.32 386.63,535.56 C388.79,532.80 390.97,528.20 393.02,525.08 C395.07,521.96 397.03,519.46 398.92,516.83 C400.82,514.21 402.61,512.27 404.39,509.33 C406.16,506.40 407.88,502.09 409.59,499.21 C411.29,496.33 412.96,494.44 414.61,492.05 C416.25,489.66 417.86,487.02 419.45,484.87 C421.04,482.72 422.61,480.90 424.16,479.16 C425.72,477.42 427.25,475.93 428.76,474.44 C430.28,472.95 431.77,471.39 433.24,470.22 C434.72,469.04 436.18,468.08 437.63,467.37 C439.08,466.65 440.51,466.28 441.93,465.93 C443.35,465.59 444.75,465.45 446.14,465.30 C447.53,465.14 448.91,465.06 450.27,464.99 C451.64,464.93 452.99,464.93 454.33,464.92 C455.67,464.91 457.00,464.90 458.32,464.94 C459.64,464.99 460.94,465.08 462.24,465.17 C463.54,465.27 464.83,465.35 466.11,465.50 C467.40,465.66 468.68,465.88 469.96,466.09 C471.23,466.30 472.50,466.53 473.77,466.78 C475.04,467.04 476.30,467.33 477.55,467.60 C478.81,467.88 480.06,468.13 481.31,468.42 C482.55,468.70 483.80,468.98 485.04,469.32 C486.29,469.66 487.53,470.08 488.76,470.46 C490.00,470.84 491.24,471.23 492.47,471.60 C493.70,471.97 494.94,472.34 496.16,472.68 C497.39,473.03 498.62,473.33 499.84,473.66 C501.07,473.98 502.29,474.31 503.52,474.63 C504.74,474.95 505.97,475.26 507.19,475.56 C508.42,475.87 509.65,476.16 510.87,476.46 C512.10,476.76 513.32,477.12 514.55,477.36 C515.77,477.61 517.00,477.75 518.22,477.94 C519.45,478.12 520.68,478.28 521.90,478.46 C523.13,478.63 524.35,478.85 525.58,478.98 C526.80,479.12 528.03,479.25 529.26,479.26 C530.48,479.28 531.71,479.14 532.93,479.07 C534.16,479.01 535.38,478.95 536.61,478.88 C537.83,478.80 539.06,478.84 540.29,478.61 C541.51,478.39 542.74,477.88 543.96,477.51 C545.19,477.14 546.41,476.82 547.64,476.41 C548.86,476.00 550.09,475.58 551.32,475.04 C552.54,474.51 553.77,473.82 554.99,473.20 C556.22,472.59 557.44,472.02 558.67,471.37 C559.90,470.71 561.12,470.01 562.35,469.30 C563.57,468.59 564.80,467.84 566.02,467.10 C567.25,466.37 569.09,465.27 569.70,464.91" fill="none" stroke="#FFC000" stroke-width="1.8"/>
<rect x="349.71" y="572.00" width="5.6" height="5.6" fill="#FFC000"/>
<rect x="356.81" y="559.90" width="5.6" height="5.6" fill="#FFC000"/>
<rect x="363.77" y="550.83" width="5.6" height="5.6" fill="#FFC000"/>
<rect x="370.59" y="544.01" width="5.6" height="5.6" fill="#FFC000"/>
<rect x="377.28" y="538.84" width="5.6" height="5.6" fill="#FFC000"/>
<rect x="383.83" y="532.76" width="5.6" height="5.6" fill="#FFC000"/>
<rect x="390.22" y="522.28" width="5.6" height="5.6" fill="#FFC000"/>
<rect x="396.12" y="514.03" width="5.6" height="5.6" fill="#FFC000"/>
<rect x="401.59" y="506.53" width="5.6" height="5.6" fill="#FFC000"/>
<rect x="406.79" y="496.41" width="5.6" height="5.6" fill="#FFC000"/>
<rect x="411.81" y="489.25" width="5.6" height="5.6" fill="#FFC000"/>
<rect x="416.65" y="482.07" width="5.6" height="5.6" fill="#FFC000"/>
<rect x="421.36" y="476.36" width="5.6" height="5.6" fill="#FFC000"/>
<rect x="425.96" y="471.64" width="5.6" height="5.6" fill="#FFC000"/>
<rect x="430.44" y="467.42" width="5.6" height="5.6" fill="#FFC000"/>
<rect x="434.83" y="464.57" width="5.6" height="5.6" fill="#FFC000"/>
<rect x="439.13" y="463.13" width="5.6" height="5.6" fill="#FFC000"/>
<rect x="443.34" y="462.50" width="5.6" height="5.6" fill="#FFC000"/>
<rect x="447.47" y="462.19" width="5.6" height="5.6" fill="#FFC000"/>
<rect x="451.53" y="462.12" width="5.6" height="5.6" fill="#FFC000"/>
<rect x="455.52" y="462.14" width="5.6" height="5.6" fill="#FFC000"/>
<rect x="459.44" y="462.37" width="5.6" height="5.6" fill="#FFC000"/>
<rect x="463.31" y="462.70" width="5.6" height="5.6" fill="#FFC000"/>
<rect x="467.16" y="463.29" width="5.6" height="5.6" fill="#FFC000"/>
<rect x="470.97" y="463.98" width="5.6" height="5.6" fill="#FFC000"/>
<rect x="474.75" y="464.80" width="5.6" height="5.6" fill="#FFC000"/>
<rect x="478.51" y="465.62" width="5.6" height="5.6" fill="#FFC000"/>
<rect x="482.24" y="466.52" width="5.6" height="5.6" fill="#FFC000"/>
<rect x="485.96" y="467.66" width="5.6" height="5.6" fill="#FFC000"/>
<rect x="489.67" y="468.80" width="5.6" height="5.6" fill="#FFC000"/>
<rect x="493.36" y="469.88" width="5.6" height="5.6" fill="#FFC000"/>
<rect x="497.04" y="470.86" width="5.6" height="5.6" fill="#FFC000"/>
<rect x="500.72" y="471.83" width="5.6" height="5.6" fill="#FFC000"/>
<rect x="504.39" y="472.76" width="5.6" height="5.6" fill="#FFC000"/>
<rect x="508.07" y="473.66" width="5.6" height="5.6" fill="#FFC000"/>
<rect x="511.75" y="474.56" width="5.6" height="5.6" fill="#FFC000"/>
<rect x="515.42" y="475.14" width="5.6" height="5.6" fill="#FFC000"/>
<rect x="519.10" y="475.66" width="5.6" height="5.6" fill="#FFC000"/>
<rect x="522.78" y="476.18" width="5.6" height="5.6" fill="#FFC000"/>
<rect x="526.46" y="476.46" width="5.6" height="5.6" fill="#FFC000"/>
<rect x="530.13" y="476.27" width="5.6" height="5.6" fill="#FFC000"/>
<rect x="533.81" y="476.08" width="5.6" height="5.6" fill="#FFC000"/>
<rect x="537.49" y="475.81" width="5.6" height="5.6" fill="#FFC000"/>
<rect x="541.16" y="474.71" width="5.6" height="5.6" fill="#FFC000"/>
<rect x="544.84" y="473.61" width="5.6" height="5.6" fill="#FFC000"/>
<rect x="548.52" y="472.24" width="5.6" height="5.6" fill="#FFC000"/>
<rect x="552.19" y="470.40" width="5.6" height="5.6" fill="#FFC000"/>
<rect x="555.87" y="468.57" width="5.6" height="5.6" fill="#FFC000"/>
<rect x="559.55" y="466.50" width="5.6" height="5.6" fill="#FFC000"/>
<rect x="563.22" y="464.30" width="5.6" height="5.6" fill="#FFC000"/>
<rect x="566.90" y="462.11" width="5.6" height="5.6" fill="#FFC000"/>
<path d="M349.20,556.10 C349.75,556.80 350.77,560.20 352.51,560.33 C354.24,560.45 357.27,557.36 359.61,556.83 C361.96,556.31 364.28,557.79 366.57,557.19 C368.87,556.59 371.14,554.46 373.39,553.24 C375.65,552.02 377.87,550.99 380.08,549.86 C382.29,548.73 384.48,548.16 386.63,546.44 C388.79,544.72 390.97,542.03 393.02,539.56 C395.07,537.10 397.03,534.29 398.92,531.65 C400.82,529.00 402.61,526.42 404.39,523.70 C406.16,520.99 407.88,518.44 409.59,515.34 C411.29,512.25 412.96,508.38 414.61,505.12 C416.25,501.87 417.86,498.75 419.45,495.80 C421.04,492.84 422.61,490.05 424.16,487.38 C425.72,484.71 427.25,482.08 428.76,479.77 C430.28,477.46 431.77,475.46 433.24,473.51 C434.72,471.57 436.18,469.68 437.63,468.10 C439.08,466.52 440.51,465.08 441.93,464.05 C443.35,463.02 444.75,462.44 446.14,461.92 C447.53,461.41 448.91,461.10 450.27,460.96 C451.64,460.83 452.99,461.01 454.33,461.11 C455.67,461.20 457.00,461.30 458.32,461.55 C459.64,461.80 460.94,462.23 462.24,462.61 C463.54,462.99 464.83,463.35 466.11,463.84 C467.40,464.32 468.68,464.99 469.96,465.52 C471.23,466.06 472.50,466.56 473.77,467.03 C475.04,467.49 476.30,467.90 477.55,468.33 C478.81,468.76 480.06,469.17 481.31,469.62 C482.55,470.06 483.80,470.49 485.04,470.99 C486.29,471.49 487.53,472.07 488.76,472.60 C490.00,473.14 491.24,473.69 492.47,474.21 C493.70,474.72 494.94,475.24 496.16,475.71 C497.39,476.17 498.62,476.57 499.84,476.99 C501.07,477.42 502.29,477.89 503.52,478.28 C504.74,478.67 505.97,479.01 507.19,479.33 C508.42,479.66 509.65,479.93 510.87,480.22 C512.10,480.52 513.32,480.88 514.55,481.12 C515.77,481.35 517.00,481.48 518.22,481.65 C519.45,481.82 520.68,481.97 521.90,482.13 C523.13,482.29 524.35,482.49 525.58,482.61 C526.80,482.73 528.03,482.85 529.26,482.85 C530.48,482.85 531.71,482.68 532.93,482.60 C534.16,482.52 535.38,482.45 536.61,482.36 C537.83,482.27 539.06,482.28 540.29,482.05 C541.51,481.81 542.74,481.30 543.96,480.93 C545.19,480.56 546.41,480.25 547.64,479.82 C548.86,479.38 550.09,478.93 551.32,478.30 C552.54,477.68 553.77,476.82 554.99,476.08 C556.22,475.34 557.44,474.66 558.67,473.85 C559.90,473.05 561.12,472.17 562.35,471.27 C563.57,470.38 564.80,469.41 566.02,468.49 C567.25,467.56 569.09,466.16 569.70,465.70" fill="none" stroke="#00B050" stroke-width="1.8"/>
<path d="M352.51,557.38 L355.61,563.27 L349.41,563.27Z" fill="#00B050"/>
<path d="M359.61,553.89 L362.71,559.78 L356.51,559.78Z" fill="#00B050"/>
<path d="M366.57,554.24 L369.67,560.13 L363.47,560.13Z" fill="#00B050"/>
<path d="M373.39,550.29 L376.49,556.18 L370.29,556.18Z" fill="#00B050"/>
<path d="M380.08,546.91 L383.18,552.80 L376.98,552.80Z" fill="#00B050"/>
<path d="M386.63,543.49 L389.73,549.38 L383.53,549.38Z" fill="#00B050"/>
<path d="M393.02,536.62 L396.12,542.51 L389.92,542.51Z" fill="#00B050"/>
<path d="M398.92,528.70 L402.02,534.59 L395.82,534.59Z" fill="#00B050"/>
<path d="M404.39,520.76 L407.49,526.65 L401.29,526.65Z" fill="#00B050"/>
<path d="M409.59,512.40 L412.69,518.29 L406.49,518.29Z" fill="#00B050"/>
<path d="M414.61,502.18 L417.71,508.07 L411.51,508.07Z" fill="#00B050"/>
<path d="M419.45,492.85 L422.55,498.74 L416.35,498.74Z" fill="#00B050"/>
<path d="M424.16,484.43 L427.26,490.32 L421.06,490.32Z" fill="#00B050"/>
<path d="M428.76,476.83 L431.86,482.72 L425.66,482.72Z" fill="#00B050"/>
<path d="M433.24,470.57 L436.34,476.46 L430.14,476.46Z" fill="#00B050"/>
<path d="M437.63,465.16 L440.73,471.05 L434.53,471.05Z" fill="#00B050"/>
<path d="M441.93,461.11 L445.03,467.00 L438.83,467.00Z" fill="#00B050"/>
<path d="M446.14,458.98 L449.24,464.87 L443.04,464.87Z" fill="#00B050"/>
<path d="M450.27,458.02 L453.37,463.91 L447.17,463.91Z" fill="#00B050"/>
<path d="M454.33,458.16 L457.43,464.05 L451.23,464.05Z" fill="#00B050"/>
<path d="M458.32,458.61 L461.42,464.50 L455.22,464.50Z" fill="#00B050"/>
<path d="M462.24,459.66 L465.34,465.55 L459.14,465.55Z" fill="#00B050"/>
<path d="M466.11,460.89 L469.21,466.78 L463.01,466.78Z" fill="#00B050"/>
<path d="M469.96,462.58 L473.06,468.47 L466.86,468.47Z" fill="#00B050"/>
<path d="M473.77,464.08 L476.87,469.97 L470.67,469.97Z" fill="#00B050"/>
<path d="M477.55,465.38 L480.65,471.27 L474.45,471.27Z" fill="#00B050"/>
<path d="M481.31,466.67 L484.41,472.56 L478.21,472.56Z" fill="#00B050"/>
<path d="M485.04,468.05 L488.14,473.94 L481.94,473.94Z" fill="#00B050"/>
<path d="M488.76,469.66 L491.86,475.55 L485.66,475.55Z" fill="#00B050"/>
<path d="M492.47,471.26 L495.57,477.15 L489.37,477.15Z" fill="#00B050"/>
<path d="M496.16,472.76 L499.26,478.65 L493.06,478.65Z" fill="#00B050"/>
<path d="M499.84,474.05 L502.94,479.94 L496.74,479.94Z" fill="#00B050"/>
<path d="M503.52,475.34 L506.62,481.23 L500.42,481.23Z" fill="#00B050"/>
<path d="M507.19,476.39 L510.29,482.28 L504.09,482.28Z" fill="#00B050"/>
<path d="M510.87,477.28 L513.97,483.17 L507.77,483.17Z" fill="#00B050"/>
<path d="M514.55,478.17 L517.65,484.06 L511.45,484.06Z" fill="#00B050"/>
<path d="M518.22,478.70 L521.32,484.59 L515.12,484.59Z" fill="#00B050"/>
<path d="M521.90,479.19 L525.00,485.08 L518.80,485.08Z" fill="#00B050"/>
<path d="M525.58,479.67 L528.68,485.56 L522.48,485.56Z" fill="#00B050"/>
<path d="M529.26,479.90 L532.36,485.79 L526.16,485.79Z" fill="#00B050"/>
<path d="M532.93,479.66 L536.03,485.55 L529.83,485.55Z" fill="#00B050"/>
<path d="M536.61,479.41 L539.71,485.30 L533.51,485.30Z" fill="#00B050"/>
<path d="M540.29,479.10 L543.39,484.99 L537.19,484.99Z" fill="#00B050"/>
<path d="M543.96,477.99 L547.06,483.88 L540.86,483.88Z" fill="#00B050"/>
<path d="M547.64,476.87 L550.74,482.76 L544.54,482.76Z" fill="#00B050"/>
<path d="M551.32,475.36 L554.42,481.25 L548.22,481.25Z" fill="#00B050"/>
<path d="M554.99,473.13 L558.09,479.02 L551.89,479.02Z" fill="#00B050"/>
<path d="M558.67,470.91 L561.77,476.80 L555.57,476.80Z" fill="#00B050"/>
<path d="M562.35,468.33 L565.45,474.22 L559.25,474.22Z" fill="#00B050"/>
<path d="M566.02,465.54 L569.12,471.43 L562.92,471.43Z" fill="#00B050"/>
<path d="M569.70,462.75 L572.80,468.64 L566.60,468.64Z" fill="#00B050"/>
</g>
<text x="307.50" y="390.70" style="font-family:'Liberation Serif',serif;font-weight:bold;font-size:20px" text-anchor="start" >c</text>
<text transform="translate(321.2,491) rotate(-90)" text-anchor="middle" style="font-family:'Liberation Serif',serif;font-weight:bold;font-size:11.8px">-Phase Angle (Degree)</text>
<text x="459.20" y="639.70" style="font-family:'Liberation Serif',serif;font-weight:bold;font-size:11.5px" text-anchor="middle" >Log f (HZ)</text>
</svg>
</body></html>
